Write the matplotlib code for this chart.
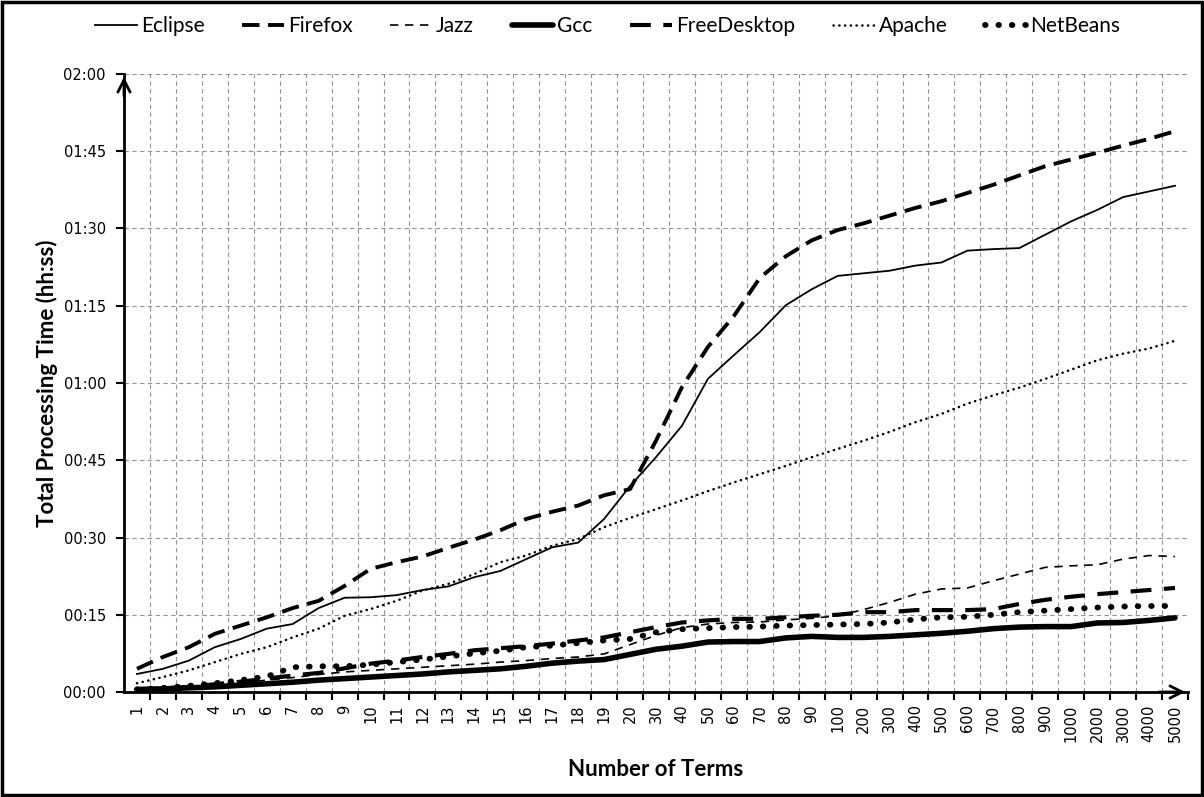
import matplotlib
matplotlib.use("Agg")
import matplotlib.pyplot as plt
from matplotlib.ticker import FixedLocator, FuncFormatter
from matplotlib.patches import Rectangle

# Number of terms (category axis)
terms = [str(v) for v in list(range(1, 21)) + [30, 40, 50, 60, 70, 80, 90, 100,
         200, 300, 400, 500, 600, 700, 800, 900, 1000, 2000, 3000, 4000, 5000]]

# Total processing time per project, in minutes
eclipse = [3.5, 4.5, 6.1, 8.7, 10.3, 12.3, 13.2, 16.3, 18.3, 18.4, 18.8, 19.8, 20.5, 22.3,
           23.5, 25.8, 28.1, 29.0, 33.6, 40.0, 45.6, 51.7, 60.8, 65.4, 69.9, 75.1, 78.2,
           80.8, 81.3, 81.8, 82.8, 83.4, 85.7, 86.0, 86.2, 88.8, 91.4, 93.6, 96.1, 97.2, 98.3]
firefox = [4.5, 6.8, 8.7, 11.3, 12.9, 14.5, 16.3, 17.7, 20.6, 23.9, 25.2, 26.3, 28.0, 29.6,
           31.4, 33.6, 35.0, 36.2, 38.2, 39.4, 48.8, 59.2, 67.0, 73.0, 80.4, 84.6, 87.7,
           89.7, 91.0, 92.5, 94.0, 95.3, 96.9, 98.5, 100.3, 102.1, 103.4, 104.7, 106.1,
           107.4, 108.9]
jazz = [0.4, 0.7, 1.0, 1.4, 1.8, 2.3, 2.8, 3.4, 3.9, 4.2, 4.5, 4.8, 5.1, 5.4, 5.8, 6.1,
        6.5, 6.8, 7.4, 9.2, 11.0, 12.5, 13.2, 13.5, 13.6, 14.0, 14.3, 14.8, 16.0, 17.4,
        19.0, 20.0, 20.2, 21.6, 22.9, 24.2, 24.5, 24.7, 25.8, 26.5, 26.3]
gcc = [0.5, 0.6, 0.8, 1.0, 1.3, 1.6, 1.9, 2.3, 2.6, 2.9, 3.2, 3.5, 3.9, 4.2, 4.5, 5.0,
       5.6, 6.0, 6.3, 7.3, 8.3, 8.9, 9.7, 9.8, 9.8, 10.5, 10.8, 10.6, 10.6, 10.8, 11.1,
       11.4, 11.8, 12.3, 12.6, 12.7, 12.7, 13.4, 13.5, 13.9, 14.4]
freedesktop = [0.4, 0.7, 1.0, 1.5, 2.0, 2.6, 3.2, 3.7, 4.6, 5.5, 6.1, 6.8, 7.4, 8.1, 8.5,
               8.9, 9.4, 10.0, 10.6, 11.6, 12.6, 13.5, 13.9, 14.2, 14.2, 14.5, 14.8, 15.0,
               15.5, 15.5, 15.9, 15.9, 15.9, 16.1, 17.1, 17.9, 18.5, 19.0, 19.4, 19.8, 20.2]
apache = [1.7, 2.9, 4.2, 5.8, 7.4, 8.7, 10.6, 12.3, 14.8, 16.1, 17.7, 19.7, 21.0, 22.9,
          25.2, 26.5, 28.4, 29.7, 32.0, 33.8, 35.5, 37.2, 39.0, 40.7, 42.3, 43.9, 45.6,
          47.2, 48.8, 50.5, 52.4, 54.0, 56.0, 57.6, 59.1, 60.8, 62.6, 64.4, 65.7, 66.7, 68.2]
netbeans = [0.5, 0.8, 1.2, 1.7, 2.3, 3.0, 4.8, 5.0, 5.0, 5.3, 5.8, 6.3, 6.9, 7.5, 8.0,
            8.7, 9.0, 9.5, 10.0, 10.3, 11.6, 12.2, 12.4, 12.6, 12.7, 12.9, 13.0, 13.1,
            13.2, 13.5, 14.1, 14.5, 14.6, 15.0, 15.5, 15.8, 16.1, 16.4, 16.6, 16.7, 16.7]

y_ticks = [0, 15, 30, 45, 60, 75, 90, 105, 120]

tick_font = "DejaVu Sans"
text_font = "Lato"

fig = plt.figure(figsize=(12.04, 7.97), dpi=100)
ax = fig.add_axes([124 / 1204, 1 - 692 / 797, (1188 - 124) / 1204, (692 - 74) / 797])

x = list(range(len(terms)))
k = "black"
ax.plot(x, eclipse, color=k, lw=1.3, ls="-", label="Eclipse")
ax.plot(x, firefox, color=k, lw=2.8, ls=(0, (4.5, 2.2)), label="Firefox")
ax.plot(x, jazz, color=k, lw=1.2, ls=(0, (5, 4)), label="Jazz")
ax.plot(x, gcc, color=k, lw=4.0, ls="-", label="Gcc", solid_capstyle="round")
ax.plot(x, freedesktop, color=k, lw=3.0, ls=(0, (5, 3)), label="FreeDesktop")
ax.plot(x, apache, color=k, lw=1.8, ls=(0, (0.1, 2.2)), dash_capstyle="round", label="Apache")
ax.plot(x, netbeans, color=k, lw=4.2, ls=(0, (0.1, 2.2)), dash_capstyle="round", label="NetBeans")

ax.set_xlim(-0.5, len(terms) - 0.5)
ax.set_ylim(0, 120)

# Category labels centred, tick marks and gridlines between categories
ax.set_xticks(x)
ax.set_xticklabels(terms, rotation=90, fontfamily=tick_font, fontsize=10.5)
ax.tick_params(axis="x", which="major", length=0, pad=9)
bounds = [i + 0.5 for i in range(len(terms))]
ax.xaxis.set_minor_locator(FixedLocator(bounds))
ax.tick_params(axis="x", which="minor", length=6, width=1.5, direction="out")

ax.yaxis.set_major_locator(FixedLocator(y_ticks))
ax.yaxis.set_major_formatter(FuncFormatter(lambda v, p: f"{int(v // 60):02d}:{int(v % 60):02d}"))
ax.tick_params(axis="y", length=6, width=1.5, direction="out", pad=7)
for lab in ax.get_yticklabels():
    lab.set_fontfamily(tick_font)
    lab.set_fontsize(10.5)

ax.grid(False)
for b in bounds:
    ax.axvline(b, color="#939393", lw=0.8, ls=(0, (4, 3)), zorder=0)
for t in y_ticks[1:]:
    ax.axhline(t, color="#939393", lw=0.8, ls=(0, (4, 3)), zorder=0)

for side in ("top", "right"):
    ax.spines[side].set_visible(False)
for side in ("left", "bottom"):
    ax.spines[side].set_linewidth(2)

# Arrow heads at the axis ends
ax.annotate("", xy=(1.0, 0), xytext=(0.97, 0), xycoords="axes fraction",
            arrowprops=dict(arrowstyle="->", lw=2, color=k, mutation_scale=22))
ax.annotate("", xy=(0, 1.0), xytext=(0, 0.96), xycoords="axes fraction",
            arrowprops=dict(arrowstyle="->", lw=2, color=k, mutation_scale=22))

ax.set_ylabel("Total Processing Time (hh:ss)", fontfamily=text_font, fontweight="bold",
              fontsize=16, labelpad=4)
ax.set_xlabel("Number of Terms", fontfamily=text_font, fontweight="bold", fontsize=16,
              labelpad=12)

fig.legend(loc="center", bbox_to_anchor=(0.505, 1 - 26 / 797), ncol=7, frameon=False,
           prop={"family": text_font, "size": 15}, handlelength=2.0, handletextpad=0.2,
           columnspacing=1.8)

fig.patches.append(Rectangle((0.002, 0.003), 0.996, 0.994, transform=fig.transFigure,
                             fill=False, edgecolor="black", lw=2.5))

fig.savefig("out.png", dpi=100)
